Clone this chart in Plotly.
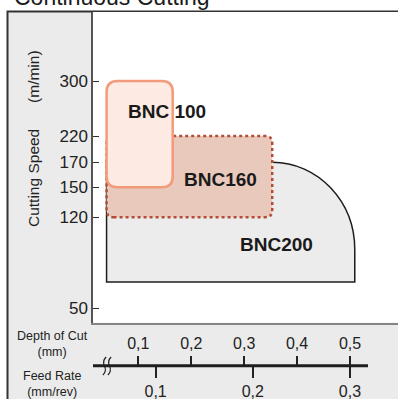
import numpy as np
import plotly.graph_objects as go

# ---------------- data ----------------
speed_ticks = [50, 120, 150, 170, 220, 300]          # cutting speed (m/min)
depth_ticks = [0.1, 0.2, 0.3, 0.4, 0.5]              # depth of cut (mm)
depth_labels = ["0,1", "0,2", "0,3", "0,4", "0,5"]
feed_ticks = [0.1, 0.2, 0.3]                         # feed rate (mm/rev)
feed_labels = ["0,1", "0,2", "0,3"]

grade_names = ["BNC 100", "BNC160", "BNC200"]
bnc100_depth = [0.04, 0.165]
bnc100_speed = [150, 300]
bnc160_depth = [0.04, 0.353]
bnc160_speed = [120, 220]
bnc200_depth = [0.04, 0.509]
bnc200_speed = [70, 170]
bnc200_knee_depth = 0.353      # curve starts here on the top edge
bnc200_knee_speed = 95         # curve ends here on the right edge

# label anchor points (depth, speed)
label_depth = [0.154, 0.255, 0.3615]
label_speed = [255, 156, 99]

# ---------------- layout constants ----------------
W, H = 398, 399
# non-linear speed scale: positions of the speed ticks along the axis
SPEED_POS = [14.7, 105.5, 135.5, 160.5, 186.7, 241.7]
Y_RANGE = [0, 310.7]
X_RANGE = [0.01436, 0.59066]      # depth of cut
FEED_RANGE = [0.0355, 0.3495]
DPX = (X_RANGE[1] - X_RANGE[0]) / (W - 93)   # depth units per pixel


def sp(v):
    return float(np.interp(v, speed_ticks, SPEED_POS))


def rrect(x0, x1, s0, s1, r):
    y0, y1 = sp(s0), sp(s1)
    rx, ry = r * DPX, r
    return (f"M {x0+rx},{y0} L {x1-rx},{y0} Q {x1},{y0} {x1},{y0+ry} "
            f"L {x1},{y1-ry} Q {x1},{y1} {x1-rx},{y1} L {x0+rx},{y1} "
            f"Q {x0},{y1} {x0},{y1-ry} L {x0},{y0+ry} Q {x0},{y0} {x0+rx},{y0} Z")


def bnc200_path():
    x0, x1 = bnc200_depth
    y0, y1 = sp(bnc200_speed[0]), sp(bnc200_speed[1])
    xk, yk = bnc200_knee_depth, sp(bnc200_knee_speed)
    k = 0.5523
    return (f"M {x0},{y0} L {x1},{y0} L {x1},{yk} "
            f"C {x1},{yk + k*(y1-yk)} {xk + k*(x1-xk)},{y1} {xk},{y1} "
            f"L {x0},{y1} Z")


FONT = "Liberation Sans, Arial, sans-serif"
fig = go.Figure()
for xa in ["x", "x2", "x3"]:
    fig.add_trace(go.Scatter(x=[None], y=[None], xaxis=xa, yaxis="y",
                             showlegend=False, hoverinfo="skip"))

shapes = []
# gray frame panel with outer border
shapes.append(dict(type="rect", xref="paper", yref="paper",
                   x0=7.5 / W, x1=1.1, y0=-0.1, y1=(H - 11.5) / H,
                   fillcolor="#ebebeb", line=dict(color="#333333", width=2),
                   layer="below"))
# white plot area
shapes.append(dict(type="rect", xref="x domain", yref="y domain",
                   x0=0, x1=1.2, y0=0, y1=1, fillcolor="white",
                   line=dict(width=0), layer="below"))
# BNC200
shapes.append(dict(type="path", xref="x", yref="y", path=bnc200_path(),
                   fillcolor="#ececec", line=dict(color="#1e1e1e", width=1.5),
                   layer="below"))
# BNC160
shapes.append(dict(type="path", xref="x", yref="y",
                   path=rrect(bnc160_depth[0], bnc160_depth[1],
                              bnc160_speed[0], bnc160_speed[1], 7),
                   fillcolor="#e9c9bb", line=dict(color="#b24e38", width=2.5, dash="dot"),
                   layer="below"))
# BNC100
shapes.append(dict(type="path", xref="x", yref="y",
                   path=rrect(bnc100_depth[0], bnc100_depth[1],
                              bnc100_speed[0], bnc100_speed[1], 11),
                   fillcolor="#fdeae3", line=dict(color="#f29a7a", width=2.5),
                   layer="below"))

# bottom scale line
AX_Y = (H - 365.7) / H
shapes.append(dict(type="line", xref="x2", yref="paper",
                   x0=X_RANGE[0], x1=X_RANGE[0] + (368 - 93) * DPX,
                   y0=AX_Y, y1=AX_Y, line=dict(color="#1e1e1e", width=3)))


def py(y):
    return (H - y) / H


# break marks
for px in [104.5, 109.5]:
    xc = X_RANGE[0] + (px - 93) * DPX
    d = 2.0 * DPX
    path = (f"M {xc + 0.8*d},{py(357)} Q {xc - 1.2*d},{py(361)} {xc},{py(366)} "
            f"Q {xc + 1.2*d},{py(371)} {xc - 0.8*d},{py(375)}")
    shapes.append(dict(type="path", xref="x2", yref="paper", path=path,
                       line=dict(color="#222222", width=1.2)))

annotations = []
# title (cut off at top)
annotations.append(dict(text="Continuous Cutting", xref="paper", yref="paper",
                        x=12 / W, y=(H + 3) / H, xanchor="left", yanchor="middle",
                        showarrow=False, font=dict(family=FONT, size=23, color="#1a1a1a")))
# y title
annotations.append(dict(text="Cutting Speed" + "\u00a0" * 6 + "(m/min)",
                        xref="paper", yref="paper", x=33.5 / W, y=py(138.5),
                        xanchor="center", yanchor="middle",
                        textangle=-90, showarrow=False,
                        font=dict(family=FONT, size=15.5, color="#222222")))
# bottom scale labels
for txt, ypx in [("Depth of Cut<br>(mm)", 343.7), ("Feed Rate<br>(mm/rev)", 384.0)]:
    annotations.append(dict(text=txt, xref="paper", yref="paper", x=52.5 / W,
                            y=py(ypx), xanchor="center", yanchor="middle",
                            showarrow=False,
                            font=dict(family=FONT, size=12.5, color="#222222")))
# grade labels
for name, d, s in zip(grade_names, label_depth, label_speed):
    annotations.append(dict(text=f"<b>{name}</b>", x=d, y=sp(s), xref="x", yref="y",
                            xanchor="center", yanchor="middle", showarrow=False,
                            font=dict(family=FONT, size=19, color="#1a1a1a")))

fig.update_layout(
    width=W, height=H, margin=dict(l=0, r=0, t=0, b=0),
    paper_bgcolor="white", plot_bgcolor="rgba(0,0,0,0)",
    showlegend=False,
    shapes=shapes, annotations=annotations,
    xaxis=dict(domain=[93 / W, 1], range=X_RANGE, showgrid=False, zeroline=False,
               showticklabels=False, ticks="", showline=True,
               linecolor="#858585", linewidth=1.5, fixedrange=True),
    xaxis2=dict(overlaying="x", anchor="free", position=AX_Y, side="top",
                range=X_RANGE, tickvals=depth_ticks, ticktext=depth_labels,
                ticks="outside", ticklen=10, tickwidth=1.5, tickcolor="#222222",
                showgrid=False, zeroline=False, showline=False,
                tickfont=dict(family=FONT, size=16, color="#222222")),
    xaxis3=dict(overlaying="x", anchor="free", position=AX_Y, side="bottom",
                range=FEED_RANGE, tickvals=feed_ticks, ticktext=feed_labels,
                ticks="outside", ticklen=11, tickwidth=1.5, tickcolor="#222222",
                showgrid=False, zeroline=False, showline=False,
                tickfont=dict(family=FONT, size=16, color="#222222")),
    yaxis=dict(domain=[(H - 322.7) / H, (H - 12) / H], range=Y_RANGE,
               tickvals=SPEED_POS, ticktext=[str(v) for v in speed_ticks],
               ticks="inside", ticklen=6, tickwidth=1.2, tickcolor="#333333",
               showgrid=False, zeroline=False, showline=True,
               linecolor="#555555", linewidth=1.5,
               tickfont=dict(family=FONT, size=17, color="#222222")),
)

fig.write_html("out.html", config={"displayModeBar": False},
               post_script="document.body.style.margin='0';document.body.style.overflow='hidden';")
